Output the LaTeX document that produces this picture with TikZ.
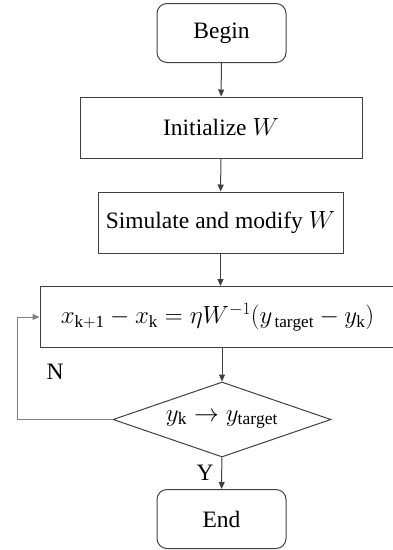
\documentclass[tikz,border=0pt]{standalone}
\usepackage{fontspec}
\setmainfont{Liberation Serif}
\usetikzlibrary{shapes.geometric,arrows.meta}

\begin{document}
\begin{tikzpicture}[x=1pt, y=-1pt,
        every node/.style={font=\fontsize{23.5}{28}\selectfont},
        box/.style={draw=black!75, line width=1pt, minimum height=61pt, inner sep=0pt},
        term/.style={box, rounded corners=10pt, minimum width=129pt, minimum height=59pt},
        link/.style={draw=black!75, line width=1pt, -{Triangle[length=7pt,width=6pt]}}]
    \useasboundingbox (0,0) rectangle (393,550);

    \node[term] (begin) at (221.5,33) {Begin};
    \node[box, minimum width=282pt] (init) at (221,127.5) {Initialize $W$};
    \node[box, minimum width=245pt] (sim) at (220.5,222.5) {Simulate and modify $W$};
    \node[box, minimum width=355pt, font=\fontsize{24.5}{29}\selectfont] (update) at (217.5,317)
        {$x_{\mathrm{k+1}}-x_{\mathrm{k}}=\eta W^{-1}(y_{\,\mathrm{target}}-y_{\mathrm{k}})$};
    \node[draw=black!75, line width=1pt, diamond, aspect=2.9, inner sep=0pt,
        minimum width=218pt, minimum height=75pt, font=\fontsize{25}{30}\selectfont]
        (check) at (222,419.5) {$y_{\mathrm{k}}\rightarrow y_{\mathrm{target}}$};
    \node[term] (end) at (221.5,519) {End};

    \node (no) at (55,372) {N};
    \node (yes) at (205,473) {Y};
    \coordinate (loop) at (17,419.5);

    \draw[link] (begin) -- (init);
    \draw[link] (init) -- (sim);
    \draw[link] (sim.south) -- (sim.south |- update.north);
    \draw[link] (update.south -| check.north) -- (check);
    \draw[link] (check) -- (end);
    \draw[link, draw=black!50] (check.west) -- (loop) |- (update.west);
\end{tikzpicture}
\end{document}
